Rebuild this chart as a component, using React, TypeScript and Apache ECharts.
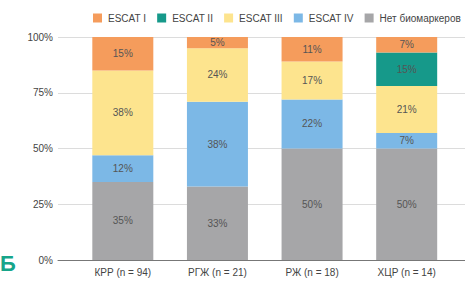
import React, { useEffect, useRef } from "react";
import * as echarts from "echarts";

const categories = ["КРР (n = 94)", "РГЖ (n = 21)", "РЖ (n = 18)", "ХЦР (n = 14)"];
const noBiomarkers = [35, 33, 50, 50];
const escat4 = [12, 38, 22, 7];
const escat3 = [38, 24, 17, 21];
const escat2 = [0, 0, 0, 15];
const escat1 = [15, 5, 11, 7];
const yTicks = [0, 25, 50, 75, 100];

const seriesDefs = [
  { name: "Нет биомаркеров", data: noBiomarkers, color: "#a6a6a8" },
  { name: "ESCAT IV", data: escat4, color: "#7cb8e6" },
  { name: "ESCAT III", data: escat3, color: "#fde48e" },
  { name: "ESCAT II", data: escat2, color: "#16998a" },
  { name: "ESCAT I", data: escat1, color: "#f59c5c" },
];

const FONT = "Liberation Sans, Arial, sans-serif";

export default function App() {
  const ref = useRef<HTMLDivElement>(null);
  useEffect(() => {
    if (!ref.current) return;
    const chart = echarts.init(ref.current, undefined, { renderer: "svg" });
    chart.setOption({
      animation: false,
      backgroundColor: "#ffffff",
      textStyle: { fontFamily: FONT },
      legend: {
        data: ["ESCAT I", "ESCAT II", "ESCAT III", "ESCAT IV", "Нет биомаркеров"],
        left: 93,
        top: 13,
        width: 372,
        padding: 0,
        itemWidth: 9,
        itemHeight: 9,
        itemGap: 11,
        icon: "rect",
        textStyle: { fontSize: 10, color: "#444", fontFamily: FONT, padding: [0, 0, 0, 1] },
      },
      grid: [
        { left: 58, right: 0, top: 37, bottom: 25 },
        { left: 75.5, right: 11, top: 37, bottom: 25 },
      ],
      xAxis: [
        {
          type: "value",
          gridIndex: 0,
          min: 0,
          max: 1,
          axisLine: { show: true, lineStyle: { color: "#777", width: 1 } },
          axisTick: { show: false },
          axisLabel: { show: false },
          splitLine: { show: false },
        },
        {
          type: "category",
          gridIndex: 1,
          data: categories,
          axisLine: { show: false },
          axisTick: { show: false },
          axisLabel: { fontSize: 10, color: "#444", margin: 7, fontFamily: FONT },
        },
      ],
      yAxis: [
        {
          type: "value",
          gridIndex: 0,
          min: yTicks[0],
          max: yTicks[yTicks.length - 1],
          interval: 25,
          axisLine: { show: false },
          axisTick: { show: false },
          axisLabel: { formatter: "{value}%", fontSize: 10, color: "#444", margin: 5, fontFamily: FONT },
          splitLine: { lineStyle: { color: "#dcdcdc" } },
        },
        {
          type: "value",
          gridIndex: 1,
          min: 0,
          max: 100,
          show: false,
        },
      ],
      series: seriesDefs.map((s) => ({
        name: s.name,
        type: "bar",
        stack: "total",
        xAxisIndex: 1,
        yAxisIndex: 1,
        barWidth: 61,
        data: s.data,
        itemStyle: { color: s.color },
        label: {
          show: true,
          position: "inside",
          fontSize: 10,
          color: "#555",
          fontFamily: FONT,
          formatter: (p: any) => (p.value ? p.value + "%" : ""),
        },
      })),
      graphic: [
        {
          type: "text",
          left: 0,
          top: 252,
          style: { text: "Б", font: "bold 22px " + FONT, fill: "#17a58a" },
        },
      ],
    });
    return () => chart.dispose();
  }, []);
  return (
    <div
      ref={ref}
      style={{ position: "fixed", left: 0, top: 0, width: 465, height: 285 }}
    />
  );
}
